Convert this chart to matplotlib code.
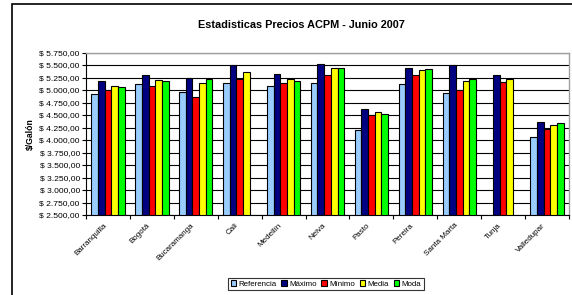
import matplotlib
matplotlib.use("Agg")
import matplotlib.pyplot as plt
import numpy as np
from matplotlib.ticker import FuncFormatter, MultipleLocator, FixedLocator
from matplotlib.patches import Rectangle

plt.rcParams['font.family'] = ['Liberation Sans', 'DejaVu Sans']

categories = ["Barranquilla", "Bogotá", "Bucaramanga", "Cali", "Medellín", "Neiva",
              "Pasto", "Pereira", "Santa Marta", "Tunja", "Valledupar"]
referencia = [4925, 5130, 4955, 5150, 5090, 5150, 4195, 5115, 4950, np.nan, 4060]
maximo = [5180, 5305, 5235, 5500, 5315, 5520, 4620, 5440, 5495, 5295, 4355]
minimo = [5000, 5090, 4870, 5230, 5150, 5305, 4510, 5305, 5000, 5155, 4230]
media = [5075, 5195, 5150, 5370, 5230, 5440, 4555, 5405, 5190, 5230, 4295]
moda = [5055, 5175, 5230, np.nan, 5175, 5440, 4515, 5430, 5230, np.nan, 4335]

series_names = ["Referencia", "Máximo", "Mínimo", "Media", "Moda"]
series = [referencia, maximo, minimo, media, moda]
colors = ["#99CCFF", "#000080", "#FF0000", "#FFFF00", "#00FF00"]

W, H = 572, 295
fig = plt.figure(figsize=(W / 100, H / 100), dpi=100)

# outer chart border
fig.patches.append(Rectangle((12 / W, -0.1), 1.2, 1 - 4 / H + 0.1, transform=fig.transFigure,
                             fill=False, edgecolor="black", linewidth=1.2))

x0, x1, y0, y1 = 86, 569, 52.5, 215
ax = fig.add_axes([x0 / W, 1 - y1 / H, (x1 - x0) / W, (y1 - y0) / H])

x = np.arange(len(categories))
bw = 0.152
for i, (name, vals, c) in enumerate(zip(series_names, series, colors)):
    v = np.array(vals, dtype=float)
    ax.bar(x + (i - 2) * bw, v - 2500, bottom=2500, width=bw, color=c,
           edgecolor="black", linewidth=0.8, label=name, zorder=3)

ax.set_xlim(-0.5, len(categories) - 0.5)
ax.set_ylim(2500, 5750)
ax.yaxis.set_major_locator(MultipleLocator(250))

def fmt(v, pos):
    s = f"{v:,.2f}".replace(",", "X").replace(".", ",").replace("X", ".")
    return "$ " + s
ax.yaxis.set_major_formatter(FuncFormatter(fmt))
ax.grid(axis="y", color="black", linewidth=0.8, zorder=0)
ax.set_axisbelow(True)

ax.set_xticks(x)
ax.set_xticklabels(categories, rotation=45, ha="right", va="top", fontsize=5.8)
ax.tick_params(axis="x", which="major", length=0, pad=5)
ax.xaxis.set_minor_locator(FixedLocator(np.arange(-0.5, len(categories) + 0.5, 1)))
ax.tick_params(axis="x", which="minor", length=3, width=0.8, direction="out")
ax.tick_params(axis="y", labelsize=6.1, length=3, width=0.8, direction="out", pad=1.5)

for s in ["top", "right"]:
    ax.spines[s].set_color("#A0A0A0")
    ax.spines[s].set_linewidth(1)
ax.spines["left"].set_color("black")
ax.spines["bottom"].set_color("black")

ax.set_ylabel("$/Galón", fontsize=6.2, fontweight="bold", labelpad=3)

fig.text(301 / W, 1 - 25 / H, "Estadisticas Precios ACPM - Junio 2007", ha="center", va="center",
         fontsize=7.8, fontweight="bold")

leg = fig.legend(loc="center", bbox_to_anchor=(326 / W, 1 - 284 / H), ncol=5, fontsize=5.7,
                 frameon=True, fancybox=False, edgecolor="black", handlelength=0.7,
                 handleheight=0.7, handletextpad=0.3, columnspacing=0.6, borderpad=0.3,
                 borderaxespad=0)
leg.get_frame().set_linewidth(0.8)

fig.savefig("out.png", dpi=100)
